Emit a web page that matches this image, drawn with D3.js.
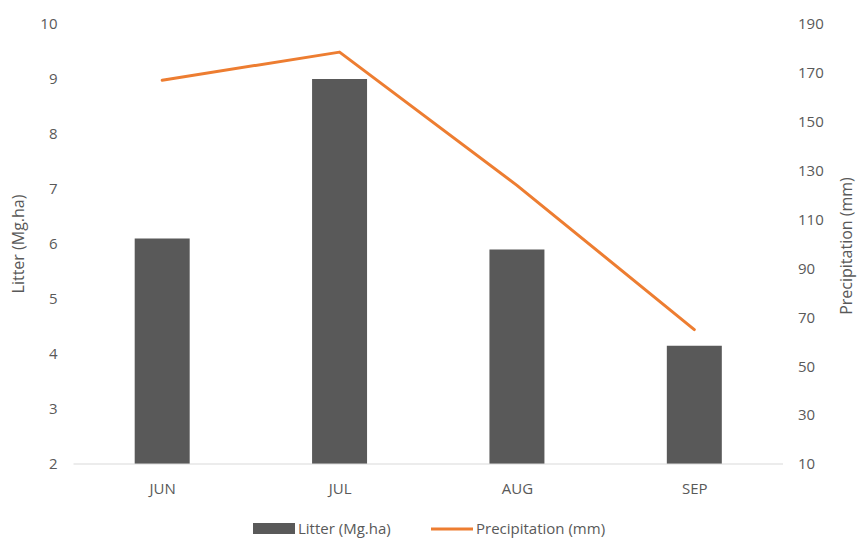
<!DOCTYPE html>
<html>
<head>
<meta charset="utf-8">
<script src="https://cdn.jsdelivr.net/npm/d3@7"></script>
<style>
  body { margin: 0; background: #fff; }
  svg text { font-family: "Open Sans", "Noto Sans", sans-serif; fill: #595959; }
</style>
</head>
<body>
<svg id="chart" width="857" height="541"></svg>
<script>
const months = ["JUN", "JUL", "AUG", "SEP"];
const litter = [6.1, 9.0, 5.9, 4.15];
const precipitation = [167, 178.5, 124, 65];
const leftTicks = [2, 3, 4, 5, 6, 7, 8, 9, 10];
const rightTicks = [10, 30, 50, 70, 90, 110, 130, 150, 170, 190];

const svg = d3.select("#chart");
const plotLeft = 73.5, plotRight = 783, plotTop = 24, plotBottom = 464;

const xScale = d3.scaleBand()
    .domain(months)
    .range([plotLeft, plotRight])
    .paddingInner(0.69)
    .paddingOuter(0.345);
const xPoint = d3.scalePoint()
    .domain(months)
    .range([plotLeft, plotRight])
    .padding(0.5);
const yLeft = d3.scaleLinear().domain([2, 10]).range([plotBottom, plotTop]);
const yRight = d3.scaleLinear().domain([10, 190]).range([plotBottom, plotTop]);

// bars
svg.append("g")
    .selectAll("rect")
    .data(months)
    .enter()
    .append("rect")
    .attr("x", d => xScale(d))
    .attr("width", xScale.bandwidth())
    .attr("y", (d, i) => yLeft(litter[i]))
    .attr("height", (d, i) => plotBottom - yLeft(litter[i]))
    .attr("fill", "#595959");

// x axis baseline
svg.append("line")
    .attr("x1", plotLeft).attr("x2", plotRight)
    .attr("y1", plotBottom).attr("y2", plotBottom)
    .attr("stroke", "#d9d9d9").attr("stroke-width", 1);

// line
const line = d3.line()
    .x((d, i) => xPoint(months[i]))
    .y(d => yRight(d));
svg.append("path")
    .datum(precipitation)
    .attr("d", line)
    .attr("fill", "none")
    .attr("stroke", "#ed7d31")
    .attr("stroke-width", 3)
    .attr("stroke-linecap", "round")
    .attr("stroke-linejoin", "round");

// left axis
const axisL = svg.append("g")
    .attr("transform", `translate(${plotLeft - 16},0)`)
    .call(d3.axisLeft(yLeft).tickValues(leftTicks).tickSize(0).tickPadding(0).tickFormat(d3.format("d")));
axisL.select(".domain").remove();
axisL.selectAll("text").attr("font-size", 15).attr("fill", "#595959");

// right axis
const axisR = svg.append("g")
    .attr("transform", `translate(${plotRight + 15},0)`)
    .call(d3.axisRight(yRight).tickValues(rightTicks).tickSize(0).tickPadding(0).tickFormat(d3.format("d")));
axisR.select(".domain").remove();
axisR.selectAll("text").attr("font-size", 15).attr("fill", "#595959");

// x axis labels
const axisX = svg.append("g")
    .attr("transform", `translate(0,${plotBottom + 19})`)
    .call(d3.axisBottom(xPoint).tickSize(0).tickPadding(0));
axisX.select(".domain").remove();
axisX.selectAll("text").attr("font-size", 15).attr("fill", "#595959").attr("dy", "0.71em");

// axis titles
svg.append("text")
    .attr("transform", `translate(24,${(plotTop + plotBottom) / 2}) rotate(-90)`)
    .attr("text-anchor", "middle")
    .attr("font-size", 16)
    .text("Litter (Mg.ha)");
svg.append("text")
    .attr("transform", `translate(852,${(plotTop + plotBottom) / 2 + 2}) rotate(-90)`)
    .attr("text-anchor", "middle")
    .attr("font-size", 16)
    .text("Precipitation (mm)");

// legend
const legend = svg.append("g").attr("transform", "translate(0,529)");
legend.append("rect")
    .attr("x", 253).attr("y", -6).attr("width", 42).attr("height", 11)
    .attr("fill", "#595959");
legend.append("text")
    .attr("x", 298).attr("y", 0).attr("dy", "0.35em")
    .attr("font-size", 15)
    .text("Litter (Mg.ha)");
legend.append("line")
    .attr("x1", 431).attr("x2", 473).attr("y1", 0).attr("y2", 0)
    .attr("stroke", "#ed7d31").attr("stroke-width", 3);
legend.append("text")
    .attr("x", 476).attr("y", 0).attr("dy", "0.35em")
    .attr("font-size", 15)
    .text("Precipitation (mm)");
</script>
</body>
</html>
